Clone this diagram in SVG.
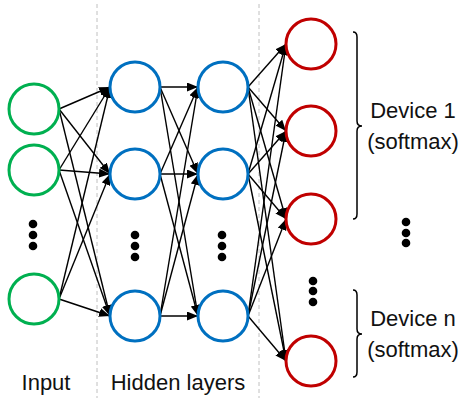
<svg xmlns="http://www.w3.org/2000/svg" width="462" height="398" viewBox="0 0 462 398">
<defs>
<marker id="ah" markerUnits="userSpaceOnUse" markerWidth="12" markerHeight="10" refX="11" refY="4.5" orient="auto">
<path d="M0,0 L11,4.5 L0,9 Z" fill="#000"/>
</marker>
<style>
.g{fill:#fff;stroke:#00b050;stroke-width:3}
.b{fill:#fff;stroke:#0070c0;stroke-width:3}
.r{fill:#fff;stroke:#c00000;stroke-width:3}
.c line{stroke:#000;stroke-width:1.4;marker-end:url(#ah)}
.dot{fill:#000}
.sep{stroke:#c0c0c0;stroke-width:1;stroke-dasharray:4,3}
.t{font-family:"Liberation Sans",Arial,sans-serif;font-size:22px;fill:#111;text-anchor:middle}
.br{fill:none;stroke:#000;stroke-width:1.5}
</style>
</defs>
<rect width="462" height="398" fill="#fff"/>
<line class="sep" x1="97" y1="4" x2="97" y2="398"/>
<line class="sep" x1="259" y1="4" x2="259" y2="398"/>
<g id="connectors" class="c">
<line x1="59" y1="109" x2="110" y2="87"/>
<line x1="59" y1="109" x2="110" y2="174"/>
<line x1="59" y1="109" x2="110" y2="316"/>
<line x1="59" y1="170" x2="110" y2="87"/>
<line x1="59" y1="170" x2="110" y2="174"/>
<line x1="59" y1="170" x2="110" y2="316"/>
<line x1="59" y1="299" x2="110" y2="87"/>
<line x1="59" y1="299" x2="110" y2="174"/>
<line x1="59" y1="299" x2="110" y2="316"/>
<line x1="160" y1="87" x2="198" y2="87"/>
<line x1="160" y1="87" x2="198" y2="174"/>
<line x1="160" y1="87" x2="198" y2="316"/>
<line x1="160" y1="174" x2="198" y2="87"/>
<line x1="160" y1="174" x2="198" y2="174"/>
<line x1="160" y1="174" x2="198" y2="316"/>
<line x1="160" y1="316" x2="198" y2="87"/>
<line x1="160" y1="316" x2="198" y2="174"/>
<line x1="160" y1="316" x2="198" y2="316"/>
<line x1="248" y1="87" x2="286" y2="44"/>
<line x1="248" y1="87" x2="286" y2="131"/>
<line x1="248" y1="87" x2="286" y2="219"/>
<line x1="248" y1="87" x2="286" y2="361"/>
<line x1="248" y1="174" x2="286" y2="44"/>
<line x1="248" y1="174" x2="286" y2="131"/>
<line x1="248" y1="174" x2="286" y2="219"/>
<line x1="248" y1="174" x2="286" y2="361"/>
<line x1="248" y1="316" x2="286" y2="44"/>
<line x1="248" y1="316" x2="286" y2="131"/>
<line x1="248" y1="316" x2="286" y2="219"/>
<line x1="248" y1="316" x2="286" y2="361"/>
</g>
<g id="in1"><circle class="g" cx="34" cy="109" r="25"/></g>
<g id="in2"><circle class="g" cx="34" cy="170" r="25"/></g>
<g id="in3"><circle class="g" cx="34" cy="299" r="25"/></g>
<g id="h1a"><circle class="b" cx="135" cy="87" r="25"/></g>
<g id="h1b"><circle class="b" cx="135" cy="174" r="25"/></g>
<g id="h1c"><circle class="b" cx="135" cy="316" r="25"/></g>
<g id="h2a"><circle class="b" cx="223" cy="87" r="25"/></g>
<g id="h2b"><circle class="b" cx="223" cy="174" r="25"/></g>
<g id="h2c"><circle class="b" cx="223" cy="316" r="25"/></g>
<g id="o1"><circle class="r" cx="311" cy="44" r="25"/></g>
<g id="o2"><circle class="r" cx="311" cy="131" r="25"/></g>
<g id="o3"><circle class="r" cx="311" cy="219" r="25"/></g>
<g id="o4"><circle class="r" cx="311" cy="361" r="25"/></g>
<g id="dots" class="dot">
<circle cx="33" cy="224" r="4.3"/><circle cx="33" cy="235" r="4.3"/><circle cx="33" cy="246" r="4.3"/>
<circle cx="135" cy="235" r="4.3"/><circle cx="135" cy="246" r="4.3"/><circle cx="135" cy="257" r="4.3"/>
<circle cx="222" cy="235" r="4.3"/><circle cx="222" cy="246" r="4.3"/><circle cx="222" cy="257" r="4.3"/>
<circle cx="313" cy="281" r="4.3"/><circle cx="313" cy="291" r="4.3"/><circle cx="313" cy="302" r="4.3"/>
<circle cx="406" cy="222" r="4.3"/><circle cx="406" cy="233" r="4.3"/><circle cx="406" cy="243" r="4.3"/>
</g>
<g id="brace1">
<path class="br" d="M353,32 Q357,32 357,37 L357,121 Q357,126 362,126 Q357,126 357,131 L357,214 Q357,219 353,219"/>
<text class="t" x="413" y="118">Device 1</text>
<text class="t" x="413" y="149">(softmax)</text>
</g>
<g id="brace2">
<path class="br" d="M353,290 Q357,290 357,295 L357,329 Q357,334 362,334 Q357,334 357,339 L357,372 Q357,377 353,377"/>
<text class="t" x="413" y="326">Device n</text>
<text class="t" x="413" y="357">(softmax)</text>
</g>
<g id="labels">
<text class="t" x="46" y="390">Input</text>
<text class="t" x="178" y="390">Hidden layers</text>
</g>
</svg>
